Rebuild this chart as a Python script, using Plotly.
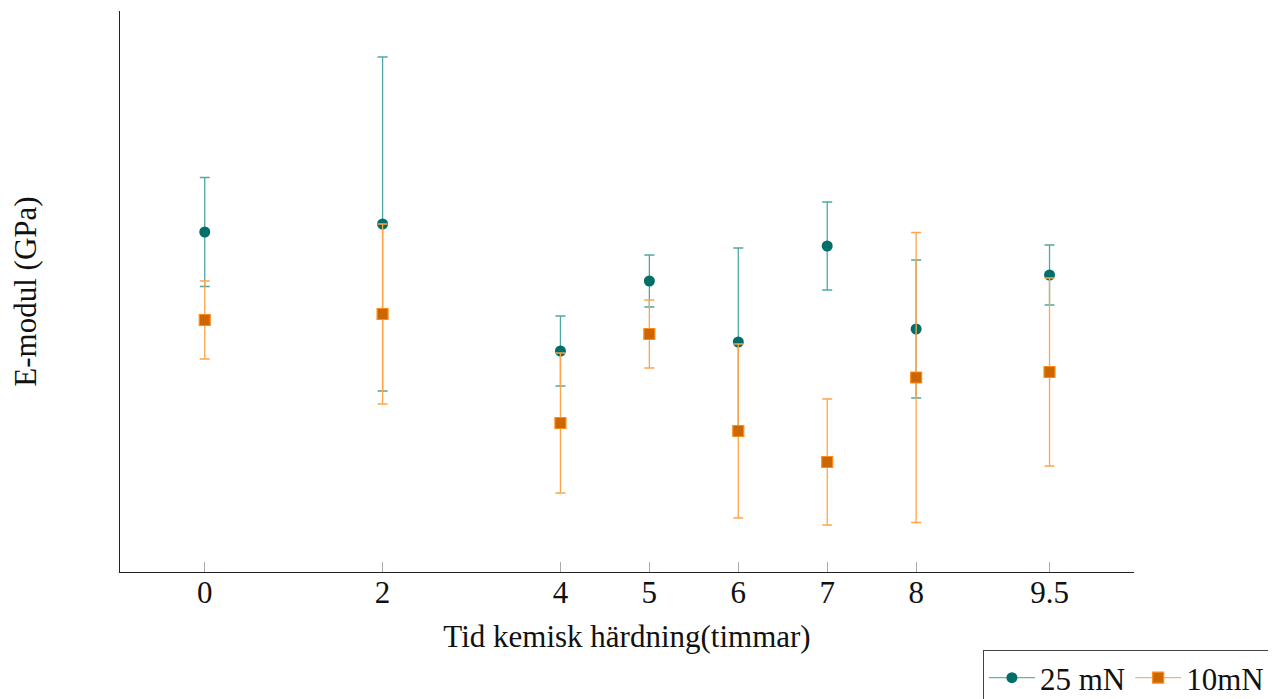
import plotly.graph_objects as go

# Data (y in arbitrary units; axis has no y tick labels)
times = [0, 2, 4, 5, 6, 7, 8, 9.5]
tick_labels = ["0", "2", "4", "5", "6", "7", "8", "9.5"]

e25 = [34.0, 34.8, 22.1, 29.1, 23.0, 32.6, 24.3, 29.7]
e25_err = [5.45, 16.7, 3.5, 2.6, 9.4, 4.4, 6.9, 3.0]

e10 = [25.2, 25.8, 14.9, 23.8, 14.1, 11.0, 19.45, 20.0]
e10_err = [3.9, 9.0, 7.0, 3.4, 8.7, 6.3, 14.5, 9.4]

FONT = "Liberation Serif"
FS = 31
TEAL = "#006e69"
TEAL_BAR = "#4ea9a5"
ORANGE = "#cc6600"
ORANGE_EDGE = "#ff8c1a"
ORANGE_BAR = "#ffa449"

fig = go.Figure()
fig.add_trace(go.Scatter(
    x=times, y=e25, name="25 mN", mode="markers", showlegend=False,
    marker=dict(symbol="circle", size=11, color=TEAL, line=dict(width=0)),
    error_y=dict(type="data", array=e25_err, visible=True,
                 color=TEAL_BAR, thickness=1.3, width=5),
))
fig.add_trace(go.Scatter(
    x=times, y=e10, name="10mN", mode="markers", showlegend=False,
    marker=dict(symbol="square", size=11, color=ORANGE,
                line=dict(width=1.2, color=ORANGE_EDGE)),
    error_y=dict(type="data", array=e10_err, visible=True,
                 color=ORANGE_BAR, thickness=1.3, width=5),
))
# legend entries (line + marker, as in the reference legend)
fig.add_trace(go.Scatter(
    x=[None], y=[None], name="25 mN", mode="lines+markers",
    line=dict(color="#5fb3af", width=1.1),
    marker=dict(symbol="circle", size=11, color=TEAL),
))
fig.add_trace(go.Scatter(
    x=[None], y=[None], name="10mN", mode="lines+markers",
    line=dict(color="#ffb266", width=1.1),
    marker=dict(symbol="square", size=11, color=ORANGE,
                line=dict(width=1.2, color=ORANGE_EDGE)),
))

fig.update_layout(
    width=1268, height=691,
    margin=dict(l=112, r=142, t=3, b=127, autoexpand=False),
    paper_bgcolor="white", plot_bgcolor="white",
    font=dict(family=FONT, size=FS, color="#111111"),
    showlegend=True,
    legend=dict(orientation="h", x=0.851, xanchor="left", y=-0.139, yanchor="top",
                bordercolor="#444444", borderwidth=1, bgcolor="white",
                font=dict(family=FONT, size=FS), itemwidth=46,
                tracegroupgap=0),
    xaxis=dict(
        range=[-0.953, 10.45],
        tickmode="array", tickvals=times, ticktext=tick_labels,
        ticks="inside", ticklen=10, tickcolor="#aaaaaa", tickwidth=1,
        ticklabelstandoff=-7,
        showline=True, linecolor="#222222", linewidth=1.3,
        showgrid=False, zeroline=False,
        tickfont=dict(family=FONT, size=FS),
        title=dict(text="Tid kemisk härdning(timmar)", standoff=15,
                   font=dict(family=FONT, size=FS)),
    ),
    yaxis=dict(
        range=[0, 56.1],
        showticklabels=False, ticks="",
        showline=True, linecolor="#222222", linewidth=1.3,
        showgrid=False, zeroline=False,
        title=dict(text="E-modul (GPa)", standoff=74,
                   font=dict(family=FONT, size=FS)),
    ),
)

fig.write_html("out.html")
